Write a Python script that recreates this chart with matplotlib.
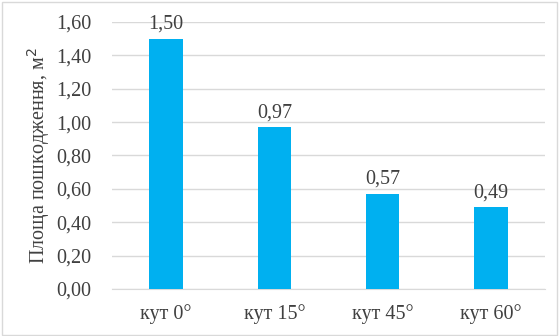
import numpy as np
import matplotlib
matplotlib.use("Agg")
from matplotlib import pyplot as plt
from matplotlib.patches import Rectangle

plt.rcParams['font.family'] = ['Liberation Serif', 'DejaVu Serif']

categories = ["кут 0°", "кут 15°", "кут 45°", "кут 60°"]
areas = [1.50, 0.97, 0.57, 0.49]
yticks = [0.0, 0.2, 0.4, 0.6, 0.8, 1.0, 1.2, 1.4, 1.6]

fig = plt.figure(figsize=(5.59, 3.36), dpi=100)
ax = fig.add_axes([0.2004, 0.140, 0.7746, 0.7945])

txt = "#404040"
fs = 14.5

x = np.arange(len(categories))
ax.bar(x, areas, width=0.31, color="#00B0F0", zorder=3)
for xi, v in zip(x, areas):
    ax.text(xi, v + 0.03, f"{v:.2f}".replace(".", ","), ha="center", va="bottom",
            fontsize=fs, color=txt)

ax.set_xlim(-0.5, len(categories) - 0.5)
ax.set_ylim(0, 1.6)
ax.set_yticks(yticks)
ax.set_yticklabels([f"{t:.2f}".replace(".", ",") for t in yticks])
ax.set_xticks(x)
ax.set_xticklabels(categories)
ax.tick_params(axis="both", length=0, labelsize=fs, colors=txt)
ax.tick_params(axis="x", pad=11)
ax.tick_params(axis="y", pad=15)
ax.yaxis.grid(True, color="#D9D9D9", linewidth=1, zorder=0)
for s in ["top", "right", "left"]:
    ax.spines[s].set_visible(False)
ax.spines["bottom"].set_color("#D9D9D9")
ax.set_ylabel("Площа пошкодження, м$^2$", fontsize=14.5, color=txt, labelpad=3)

fig.patches.append(Rectangle((0.004, 0.004), 0.992, 0.99, transform=fig.transFigure,
                             fill=False, edgecolor="#D9D9D9", linewidth=1))

fig.savefig("out.png", dpi=100)
